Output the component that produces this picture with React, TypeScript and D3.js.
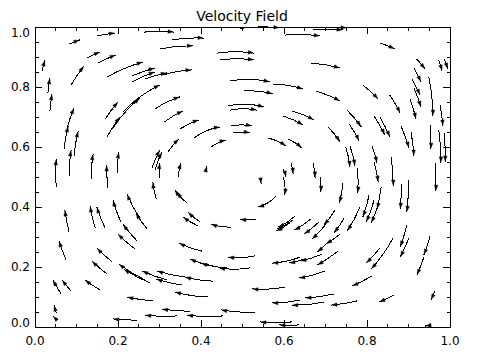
import React from "react";
import * as d3 from "d3";

const title = "Velocity Field";
const xTickValues = [0, 0.2, 0.4, 0.6, 0.8, 1.0];
const yTickValues = [0, 0.2, 0.4, 0.6, 0.8, 1.0];
const minorTicks = d3.range(0, 1.0001, 0.05);

// Arrow tails and heads (data units)
const tailX = [
  0.082, 0.149, 0.125, 0.152, 0.017, 0.087, 0.173, 0.234, 0.234, 0.265, 0.308, 0.031, 0.036, 0.169, 0.173, 0.186, 0.212, 0.070, 0.077, 0.094,
  0.051, 0.082, 0.135, 0.176, 0.198, 0.263, 0.330, 0.301, 0.289, 0.311, 0.349, 0.383, 0.424, 0.320, 0.282, 0.289, 0.299, 0.345, 0.412,
  0.439, 0.446, 0.465, 0.470, 0.472, 0.477, 0.494, 0.670, 0.692, 0.602, 0.665, 0.470, 0.573, 0.504, 0.677, 0.619, 0.598, 0.561, 0.610, 0.706,
  0.617, 0.598, 0.670, 0.831, 0.920, 0.973, 0.986, 0.913, 0.949, 0.908, 0.913, 0.790, 0.855, 0.904, 0.976, 0.752, 0.757, 0.817, 0.831, 0.882,
  0.906, 0.952, 0.973, 0.986, 0.749, 0.759, 0.812, 0.817, 0.858, 0.964, 0.253, 0.270, 0.082, 0.145, 0.169, 0.207, 0.246, 0.241, 0.075, 0.186,
  0.173,
  0.265, 0.277, 0.318, 0.429, 0.361, 0.354, 0.284, 0.157, 0.063, 0.087, 0.051, 0.053, 0.246,
  0.292, 0.359, 0.366, 0.398, 0.393, 0.472, 0.533, 0.402, 0.429, 0.463, 0.518, 0.530, 0.417, 0.373, 0.342, 0.453, 0.530, 0.542, 0.598, 0.687,
  0.742, 0.581, 0.627, 0.622, 0.614, 0.665, 0.684, 0.723, 0.745, 0.701, 0.783, 0.735, 0.711, 0.730, 0.639, 0.692, 0.651, 0.699, 0.602, 0.720,
  0.639, 0.696, 0.776, 0.619, 0.636, 0.776, 0.882, 0.899, 0.805, 0.817, 0.834, 0.829, 0.896, 0.901, 0.863, 0.831, 0.952, 0.937, 0.812, 0.865,
  0.964, 0.954,
];
const tailY = [
  0.943, 0.970, 0.897, 0.880, 0.853, 0.807, 0.833, 0.837, 0.817, 0.827, 0.840, 0.780, 0.720, 0.693, 0.633, 0.660, 0.717, 0.593, 0.663, 0.570,
  0.467, 0.503, 0.493, 0.463, 0.513, 0.983, 0.957, 0.927, 0.727, 0.683, 0.660, 0.630, 0.600, 0.583, 0.530, 0.523, 0.497, 0.500, 0.517,
  0.913, 0.890, 0.737, 0.723, 0.670, 0.647, 0.995, 0.990, 0.997, 0.973, 0.880, 0.820, 0.810, 0.787, 0.787, 0.720, 0.703, 0.630, 0.627, 0.667,
  0.547, 0.527, 0.547, 0.947, 0.893, 0.890, 0.893, 0.863, 0.833, 0.827, 0.797, 0.807, 0.773, 0.760, 0.740, 0.723, 0.677, 0.703, 0.700, 0.670,
  0.650, 0.673, 0.657, 0.647, 0.600, 0.603, 0.603, 0.550, 0.567, 0.547, 0.363, 0.327, 0.317, 0.330, 0.330, 0.350, 0.287, 0.260, 0.223, 0.217,
  0.177,
  0.157, 0.147, 0.157, 0.153, 0.167, 0.140, 0.087, 0.123, 0.110, 0.120, 0.047, 0.023, 0.023,
  0.427, 0.420, 0.413, 0.350, 0.337, 0.333, 0.360, 0.253, 0.203, 0.197, 0.197, 0.237, 0.100, 0.053, 0.037, 0.037, 0.050, 0.493, 0.500, 0.500,
  0.480, 0.437, 0.370, 0.357, 0.347, 0.360, 0.350, 0.390, 0.363, 0.343, 0.400, 0.310, 0.290, 0.253, 0.233, 0.243, 0.227, 0.187, 0.133, 0.110,
  0.090, 0.083, 0.087, 0.017, 0.007, 0.530, 0.477, 0.490, 0.440, 0.423, 0.467, 0.417, 0.340, 0.297, 0.297, 0.263, 0.303, 0.233, 0.170, 0.107,
  0.120, 0.007,
];
const headX = [
  0.108, 0.193, 0.157, 0.195, 0.024, 0.118, 0.260, 0.289, 0.289, 0.318, 0.378, 0.036, 0.041, 0.200, 0.205, 0.253, 0.301, 0.080, 0.094, 0.104,
  0.051, 0.087, 0.140, 0.173, 0.202, 0.335, 0.407, 0.381, 0.349, 0.357, 0.395, 0.446, 0.460, 0.347, 0.301, 0.306, 0.301, 0.352, 0.414,
  0.528, 0.528, 0.552, 0.535, 0.523, 0.518, 0.590, 0.742, 0.752, 0.687, 0.735, 0.566, 0.646, 0.573, 0.735, 0.672, 0.646, 0.605, 0.643, 0.735,
  0.622, 0.605, 0.675, 0.867, 0.940, 0.981, 0.995, 0.930, 0.959, 0.928, 0.930, 0.827, 0.880, 0.918, 0.983, 0.786, 0.781, 0.843, 0.855, 0.901,
  0.913, 0.954, 0.978, 0.988, 0.759, 0.771, 0.824, 0.827, 0.863, 0.966, 0.222, 0.243, 0.072, 0.133, 0.149, 0.188, 0.212, 0.200, 0.058, 0.149,
  0.137,
  0.202, 0.214, 0.258, 0.361, 0.294, 0.292, 0.222, 0.120, 0.043, 0.065, 0.046, 0.043, 0.188,
  0.284, 0.337, 0.342, 0.369, 0.357, 0.424, 0.494, 0.347, 0.373, 0.400, 0.443, 0.465, 0.337, 0.306, 0.265, 0.366, 0.448, 0.545, 0.602, 0.689,
  0.733, 0.537, 0.586, 0.583, 0.581, 0.624, 0.648, 0.696, 0.720, 0.667, 0.752, 0.701, 0.680, 0.680, 0.571, 0.639, 0.612, 0.636, 0.523, 0.651,
  0.571, 0.619, 0.713, 0.542, 0.588, 0.778, 0.880, 0.896, 0.790, 0.798, 0.824, 0.810, 0.880, 0.880, 0.810, 0.798, 0.937, 0.920, 0.764, 0.829,
  0.954, 0.940,
];
const headY = [
  0.957, 0.980, 0.917, 0.907, 0.890, 0.870, 0.883, 0.863, 0.850, 0.847, 0.857, 0.830, 0.777, 0.750, 0.700, 0.763, 0.807, 0.670, 0.730, 0.653,
  0.560, 0.590, 0.577, 0.540, 0.583, 0.983, 0.963, 0.937, 0.767, 0.720, 0.690, 0.667, 0.623, 0.627, 0.590, 0.583, 0.547, 0.547, 0.537,
  0.913, 0.890, 0.733, 0.723, 0.670, 0.647, 0.997, 0.990, 0.997, 0.970, 0.863, 0.817, 0.793, 0.777, 0.753, 0.690, 0.673, 0.603, 0.597, 0.617,
  0.510, 0.500, 0.497, 0.927, 0.860, 0.853, 0.860, 0.817, 0.703, 0.773, 0.733, 0.760, 0.713, 0.693, 0.670, 0.667, 0.620, 0.640, 0.633, 0.597,
  0.570, 0.593, 0.547, 0.550, 0.533, 0.537, 0.547, 0.483, 0.470, 0.453, 0.443, 0.380, 0.390, 0.403, 0.400, 0.423, 0.343, 0.310, 0.287, 0.263,
  0.220,
  0.210, 0.193, 0.187, 0.167, 0.187, 0.160, 0.100, 0.157, 0.157, 0.157, 0.073, 0.037, 0.027,
  0.483, 0.457, 0.450, 0.383, 0.367, 0.343, 0.360, 0.280, 0.227, 0.213, 0.197, 0.233, 0.117, 0.060, 0.040, 0.040, 0.057, 0.477, 0.440, 0.450,
  0.413, 0.400, 0.333, 0.327, 0.320, 0.323, 0.310, 0.340, 0.313, 0.293, 0.320, 0.277, 0.250, 0.207, 0.213, 0.220, 0.213, 0.163, 0.127, 0.097,
  0.080, 0.073, 0.073, 0.017, 0.007, 0.447, 0.393, 0.383, 0.367, 0.350, 0.393, 0.347, 0.267, 0.233, 0.193, 0.213, 0.240, 0.173, 0.137, 0.083,
  0.090, 0.003,
];

const W = 477;
const H = 357;

export default function App() {
  const x = d3.scaleLinear().domain([0, 1]).range([35, 450]);
  const y = d3.scaleLinear().domain([0, 1]).range([327, 27]);
  const cx = x(0.5);
  const cy = y(0.5);

  const arrows = tailX.map((_, i) => {
    const x0 = x(tailX[i]);
    const y0 = y(tailY[i]);
    const x2 = x(headX[i]);
    const y2 = y(headY[i]);
    const dx = x2 - x0;
    const dy = y2 - y0;
    const L = Math.hypot(dx, dy) || 1;
    const mx = (x0 + x2) / 2;
    const my = (y0 + y2) / 2;
    let nx = -dy / L;
    let ny = dx / L;
    if (nx * (mx - cx) + ny * (my - cy) < 0) {
      nx = -nx;
      ny = -ny;
    }
    const R = Math.max(Math.hypot(mx - cx, my - cy), 1);
    const s = Math.min((L * L) / (8 * R), L * 0.2);
    const qx = mx + 2 * s * nx;
    const qy = my + 2 * s * ny;
    let tx = x2 - qx;
    let ty = y2 - qy;
    const tl = Math.hypot(tx, ty) || 1;
    tx /= tl;
    ty /= tl;
    const hl = 5;
    const hw = 1.8;
    const ax = x2 - 1 * tx;
    const ay = y2 - 1 * ty;
    const bx = ax - hl * tx;
    const by = ay - hl * ty;
    const head = `M${ax},${ay}L${bx - hw * ty},${by + hw * tx}L${bx + hw * ty},${by - hw * tx}Z`;
    return { d: `M${x0},${y0}Q${qx},${qy} ${x2},${y2}`, head };
  });

  const font = "'DejaVu Sans', sans-serif";
  const isMajor = (v: number) => Math.abs(v * 5 - Math.round(v * 5)) < 1e-6;

  return (
    <svg
      width={W}
      height={H}
      style={{ position: "absolute", left: 0, top: 0, background: "#fff" }}
    >
      <rect x={0} y={0} width={W} height={H} fill="#fff" />
      <g fill="none" stroke="#000" strokeWidth={1} shapeRendering="crispEdges">
        {arrows.map((a, i) => (
          <path key={i} d={a.d} />
        ))}
      </g>
      <g fill="#000" stroke="#000" strokeWidth={0.4}>
        {arrows.map((a, i) => (
          <path key={i} d={a.head} />
        ))}
      </g>
      <g stroke="#000" strokeWidth={1} shapeRendering="crispEdges" fill="none">
        <rect x={x(0)} y={y(1)} width={x(1) - x(0)} height={y(0) - y(1)} />
        {minorTicks.map((v, i) => {
          const len = isMajor(v) ? 7 : 3.5;
          const px = x(v);
          const py = y(v);
          return (
            <g key={i}>
              <line x1={px} x2={px} y1={y(0)} y2={y(0) - len} />
              <line x1={px} x2={px} y1={y(1)} y2={y(1) + len} />
              <line x1={x(0)} x2={x(0) + len} y1={py} y2={py} />
              <line x1={x(1)} x2={x(1) - len} y1={py} y2={py} />
            </g>
          );
        })}
      </g>
      <g fontFamily={font} fontSize={12} fill="#000">
        {xTickValues.map((v, i) => (
          <text key={i} x={x(v)} y={345} textAnchor="middle">
            {v.toFixed(1)}
          </text>
        ))}
        {yTickValues.map((v, i) => (
          <text
            key={i}
            x={30}
            y={Math.min(Math.max(y(v), y(1) + 6), y(0) - 4)}
            textAnchor="end"
            dominantBaseline="central"
          >
            {v.toFixed(1)}
          </text>
        ))}
      </g>
      <text x={242} y={21} textAnchor="middle" fontFamily={font} fontSize={14} fill="#000">
        {title}
      </text>
    </svg>
  );
}
